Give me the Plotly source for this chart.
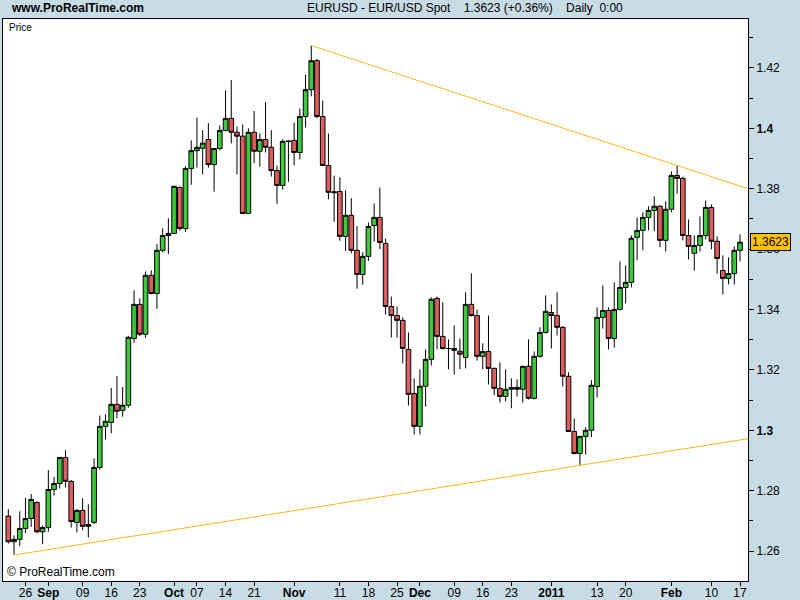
import numpy as np
import pandas as pd
import plotly.graph_objects as go

# ---------------- data ----------------
dates = pd.bdate_range("2010-08-23", "2011-02-17")

opens = [1.2716,1.2631,1.2639,1.2675,1.2708,1.2761,1.2664,1.2678,1.2804,1.2824,
         1.2910,1.2831,1.2695,1.2735,1.2682,1.2695,1.2877,1.3013,1.3026,1.3086,
         1.3066,1.3083,1.3304,1.3417,1.3318,1.3513,1.3453,1.3596,1.3645,1.3652,
         1.3804,1.3668,1.3867,1.3926,1.3934,1.3963,1.3880,1.3933,1.3993,1.4033,
         1.3987,1.3974,1.3718,1.3987,1.3924,1.3963,1.3937,1.3860,1.3811,1.3957,
         1.3960,1.3920,1.4039,1.4128,1.4224,1.4039,1.3877,1.3790,1.3791,1.3642,
         1.3712,1.3596,1.3516,1.3576,1.3678,1.3705,1.3619,1.3410,1.3380,1.3364,
         1.3268,1.3122,1.3013,1.3146,1.3235,1.3437,1.3311,1.3271,1.3271,1.3262,
         1.3241,1.3417,1.3380,1.3245,1.3261,1.3205,1.3139,1.3112,1.3136,1.3142,
         1.3136,1.3212,1.3106,1.3245,1.3324,1.3390,1.3380,1.3341,1.3179,1.2996,
         1.2923,1.2980,1.3000,1.3145,1.3374,1.3397,1.3304,1.3400,1.3473,1.3490,
         1.3639,1.3662,1.3705,1.3728,1.3742,1.3629,1.3732,1.3844,1.3834,1.3645,
         1.3586,1.3612,1.3645,1.3738,1.3626,1.3529,1.3503,1.3519,1.3596]

highs = [1.2739,1.2652,1.2732,1.2776,1.2789,1.2765,1.2685,1.2868,1.2846,1.2910,
         1.2934,1.2835,1.2738,1.2775,1.2755,1.2907,1.3049,1.3053,1.3140,1.3180,
         1.3143,1.3313,1.3464,1.3437,1.3526,1.3530,1.3617,1.3669,1.3702,1.3810,
         1.3808,1.3875,1.3960,1.4036,1.3994,1.4017,1.3935,1.4010,1.4126,1.4160,
         1.4006,1.4013,1.4000,1.4057,1.3983,1.4087,1.3994,1.3877,1.3963,1.3960,
         1.4019,1.4066,1.4178,1.4274,1.4230,1.4092,1.3983,1.3843,1.3838,1.3795,
         1.3769,1.3676,1.3590,1.3688,1.3751,1.3804,1.3635,1.3443,1.3410,1.3374,
         1.3324,1.3172,1.3202,1.3268,1.3440,1.3443,1.3424,1.3301,1.3347,1.3304,
         1.3457,1.3520,1.3400,1.3288,1.3380,1.3208,1.3225,1.3202,1.3172,1.3169,
         1.3212,1.3301,1.3261,1.3341,1.3447,1.3417,1.3457,1.3345,1.3192,1.3039,
         1.2980,1.3010,1.3166,1.3407,1.3480,1.3407,1.3490,1.3559,1.3546,1.3645,
         1.3705,1.3722,1.3742,1.3775,1.3745,1.3758,1.3857,1.3877,1.3840,1.3698,
         1.3645,1.3708,1.3761,1.3748,1.3642,1.3579,1.3573,1.3609,1.3649]

lows = [1.2625,1.2587,1.2617,1.2659,1.2680,1.2659,1.2623,1.2664,1.2784,1.2807,
        1.2811,1.2678,1.2662,1.2669,1.2645,1.2690,1.2870,1.2970,1.2990,1.3040,
        1.3045,1.3075,1.3290,1.3312,1.3306,1.3450,1.3402,1.3589,1.3583,1.3650,
        1.3661,1.3657,1.3813,1.3870,1.3848,1.3870,1.3790,1.3927,1.3990,1.3950,
        1.3847,1.3718,1.3718,1.3884,1.3873,1.3920,1.3840,1.3750,1.3798,1.3823,
        1.3877,1.3897,1.4003,1.4106,1.4033,1.3877,1.3765,1.3690,1.3628,1.3594,
        1.3586,1.3469,1.3482,1.3561,1.3625,1.3600,1.3384,1.3307,1.3307,1.3222,
        1.3082,1.2986,1.2986,1.3079,1.3215,1.3268,1.3268,1.3202,1.3185,1.3202,
        1.3205,1.3377,1.3231,1.3202,1.3152,1.3116,1.3092,1.3096,1.3073,1.3112,
        1.3092,1.3102,1.3102,1.3241,1.3320,1.3271,1.3314,1.3145,1.2996,1.2920,
        1.2884,1.2920,1.2977,1.3109,1.3337,1.3268,1.3274,1.3397,1.3420,1.3473,
        1.3563,1.3596,1.3662,1.3659,1.3606,1.3592,1.3722,1.3784,1.3629,1.3566,
        1.3529,1.3592,1.3632,1.3599,1.3519,1.3450,1.3483,1.3483,1.3559]

closes = [1.2631,1.2639,1.2675,1.2708,1.2771,1.2664,1.2678,1.2804,1.2824,1.2910,
          1.2831,1.2698,1.2735,1.2682,1.2688,1.2877,1.3013,1.3030,1.3086,1.3063,
          1.3083,1.3308,1.3417,1.3318,1.3513,1.3453,1.3596,1.3645,1.3652,1.3808,
          1.3668,1.3867,1.3926,1.3937,1.3951,1.3880,1.3933,1.3993,1.4033,1.3987,
          1.3974,1.3718,1.3987,1.3924,1.3963,1.3937,1.3860,1.3811,1.3957,1.3957,
          1.3920,1.4039,1.4128,1.4224,1.4039,1.3877,1.3788,1.3787,1.3642,1.3712,
          1.3596,1.3516,1.3576,1.3675,1.3705,1.3622,1.3410,1.3380,1.3364,1.3271,
          1.3119,1.3013,1.3146,1.3235,1.3434,1.3311,1.3271,1.3271,1.3265,1.3252,
          1.3417,1.3380,1.3245,1.3261,1.3205,1.3139,1.3112,1.3136,1.3142,1.3136,
          1.3212,1.3106,1.3245,1.3324,1.3394,1.3380,1.3341,1.3179,1.2996,1.2923,
          1.2980,1.3000,1.3149,1.3374,1.3397,1.3304,1.3400,1.3473,1.3490,1.3636,
          1.3662,1.3705,1.3728,1.3742,1.3629,1.3732,1.3844,1.3834,1.3645,1.3609,
          1.3612,1.3645,1.3738,1.3626,1.3569,1.3503,1.3519,1.3596,1.3623]

tick_dates = ["2010-08-26", "2010-09-01", "2010-09-09", "2010-09-16", "2010-09-23",
              "2010-10-01", "2010-10-07", "2010-10-14", "2010-10-21", "2010-11-01",
              "2010-11-11", "2010-11-18", "2010-11-25", "2010-12-01", "2010-12-09",
              "2010-12-16", "2010-12-23", "2011-01-03", "2011-01-13", "2011-01-20",
              "2011-02-01", "2011-02-10", "2011-02-17"]
tick_labels = ["26", "<b>Sep</b>", "09", "16", "23", "<b>Oct</b>", "07", "14", "21",
               "<b>Nov</b>", "11", "18", "25", "<b>Dec</b>", "09", "16", "23",
               "<b>2011</b>", "13", "20", "<b>Feb</b>", "10", "17"]

y_tick_vals = [1.26, 1.28, 1.30, 1.32, 1.34, 1.36, 1.38, 1.40, 1.42]
y_tick_text = ["1.26", "1.28", "<b>1.3</b>", "1.32", "1.34", "1.36", "1.38", "<b>1.4</b>", "1.42"]

# trend-line anchors (candle index, which price)
upper_anchor_idx = [53, 117]   # highs
lower_anchor_idx = [1, 100]    # lows

last_price = 1.3623
title_text = "EURUSD - EUR/USD Spot&nbsp;&nbsp;&nbsp;&nbsp;1.3623 (+0.36%)&nbsp;&nbsp;&nbsp;&nbsp;Daily&nbsp;&nbsp;0:00"

# ---------------- figure ----------------
x = np.arange(len(dates))
x_range = [-0.93, 129.4]
y_range = [1.2501, 1.4362]

BG = "#C8DCE6"
GREEN = "#3DC83D"
RED = "#DD5E5E"
ORANGE = "#FFB619"
FONT = "Liberation Sans, Arial, sans-serif"

fig = go.Figure()

fig.add_trace(go.Candlestick(
    x=x, open=opens, high=highs, low=lows, close=closes,
    increasing=dict(fillcolor=GREEN, line=dict(color="black", width=1)),
    decreasing=dict(fillcolor=RED, line=dict(color="black", width=1)),
    whiskerwidth=0, showlegend=False, hoverinfo="x+y",
))

def trend(idx, arr):
    x0, x1 = idx
    y0, y1 = arr[x0], arr[x1]
    slope = (y1 - y0) / (x1 - x0)
    xe = x_range[1]
    return [x0, xe], [y0, y0 + slope * (xe - x0)]

ux, uy = trend(upper_anchor_idx, highs)
lx, ly = trend(lower_anchor_idx, lows)
for tx, ty in [(ux, uy), (lx, ly)]:
    fig.add_trace(go.Scatter(x=tx, y=ty, mode="lines",
                             line=dict(color=ORANGE, width=1),
                             showlegend=False, hoverinfo="skip", cliponaxis=True))

tick_pos = [int(dates.get_loc(pd.Timestamp(d))) for d in tick_dates]

fig.update_layout(
    width=800, height=600,
    margin=dict(l=3, r=52, t=19, b=19, autoexpand=False),
    paper_bgcolor=BG, plot_bgcolor="white",
    font=dict(family=FONT, size=12, color="black"),
    boxgap=0.1, boxgroupgap=0.1,
    showlegend=False,
    xaxis=dict(
        range=x_range, rangeslider=dict(visible=False), automargin=False,
        tickmode="array", tickvals=tick_pos, ticktext=tick_labels,
        ticks="outside", ticklen=4, tickcolor="black", tickwidth=1,
        ticklabelstandoff=-3,
        showgrid=False, zeroline=False,
        showline=True, linecolor="black", linewidth=1, mirror=True,
        tickfont=dict(family=FONT, size=12, color="black"),
    ),
    yaxis=dict(
        range=y_range, side="right", automargin=False,
        tickmode="array", tickvals=y_tick_vals, ticktext=y_tick_text,
        ticks="outside", ticklen=5, tickcolor="black", tickwidth=1,
        minor=dict(ticks="outside", ticklen=4, dtick=0.01, tick0=1.25,
                   tickcolor="black", showgrid=False),
        showgrid=False, zeroline=False,
        showline=True, linecolor="black", linewidth=1, mirror=True,
        tickfont=dict(family=FONT, size=12, color="black"),
    ),
)

# header texts
fig.add_annotation(x=0, y=1, xref="paper", yref="paper", xanchor="left", yanchor="bottom",
                   xshift=6, yshift=2, showarrow=False,
                   text="<b>www.ProRealTime.com</b>",
                   font=dict(family=FONT, size=12, color="black"))
fig.add_annotation(x=0.62, y=1, xref="paper", yref="paper", xanchor="center", yanchor="bottom",
                   yshift=2, showarrow=False, text=title_text,
                   font=dict(family=FONT, size=12, color="black"))
fig.add_annotation(x=0, y=1, xref="paper", yref="paper", xanchor="left", yanchor="top",
                   xshift=4, yshift=-1, showarrow=False, text="Price",
                   font=dict(family=FONT, size=10, color="black"))
fig.add_annotation(x=0, y=0, xref="paper", yref="paper", xanchor="left", yanchor="bottom",
                   xshift=2, yshift=0, showarrow=False, text="© ProRealTime.com",
                   font=dict(family=FONT, size=12, color="black"))

# last price marker on the axis
fig.add_annotation(x=1, y=last_price, xref="paper", yref="y", xanchor="left", yanchor="middle",
                   xshift=2, showarrow=False, text=f"{last_price:.4f}",
                   bgcolor="#FFC000", bordercolor="black", borderwidth=1, borderpad=1,
                   font=dict(family=FONT, size=12, color="black"))

fig.write_html("out.html", config={"displayModeBar": False},
               post_script="document.body.style.margin='0px';")
